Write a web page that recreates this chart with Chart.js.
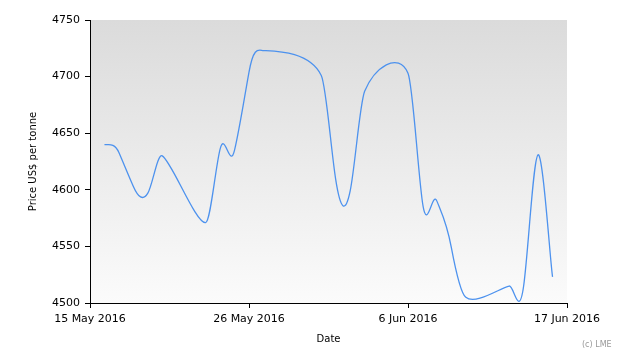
<!DOCTYPE html>
<html>
<head>
<meta charset="utf-8">
<script src="https://cdn.jsdelivr.net/npm/chart.js@4"></script>
<style>
  html, body { margin: 0; padding: 0; background: #fff; }
  #wrap { width: 630px; height: 360px; }
</style>
</head>
<body>
<div id="wrap"><canvas id="priceChart" width="630" height="360"></canvas></div>
<script>
// ---- data (LME, US$ per tonne) ----
const startDate = '2016-05-15';
const tradeDates = [
    '2016-05-16', '2016-05-17', '2016-05-18', '2016-05-19', '2016-05-20',
    '2016-05-23', '2016-05-24', '2016-05-25', '2016-05-26', '2016-05-27',
    '2016-05-31', '2016-06-01', '2016-06-02', '2016-06-03',
    '2016-06-06', '2016-06-07', '2016-06-08', '2016-06-09', '2016-06-10',
    '2016-06-13', '2016-06-14', '2016-06-15', '2016-06-16'
];
const prices = [
    4640, 4633, 4603, 4597, 4630,
    4571, 4636, 4635, 4704, 4723,
    4701, 4609, 4599, 4687,
    4703, 4589, 4590, 4549, 4505,
    4515, 4515, 4631, 4523
];
const xTickLabels = ['15 May 2016', '26 May 2016', '6 Jun 2016', '17 Jun 2016'];
const yTicks = [4500, 4550, 4600, 4650, 4700, 4750];

// days since start, for the linear x axis
const DAY = 86400000;
const dayOf = d => (Date.parse(d) - Date.parse(startDate)) / DAY;
const points = tradeDates.map((d, i) => ({ x: dayOf(d), y: prices[i] }));

// smooth spline: slope from the neighbours (x1.6, like a 0.8 cardinal),
// softened next to gaps, arms kept within each segment so it never loops
const SLOPE_GAIN = 1.6;
const smoothSpline = {
    id: 'smoothSpline',
    beforeDatasetDraw(chart, args) {
        const meta = args.meta;
        meta.dataset.updateControlPoints(chart.chartArea, 'x');
        const pts = meta.data;
        const n = pts.length;
        for (let i = 0; i < n; i++) {
            const p0 = pts[Math.max(i - 1, 0)];
            const p1 = pts[i];
            const p2 = pts[Math.min(i + 1, n - 1)];
            const span = p2.x - p0.x;
            const hl = p1.x - p0.x;
            const hr = p2.x - p1.x;
            let gain = SLOPE_GAIN;
            if (i === 0 || i === n - 1) gain /= 2;
            else gain *= Math.pow(Math.min(hl, hr) / Math.max(hl, hr), 0.25);
            const m = span ? gain * (p2.y - p0.y) / span : 0;
            const lx = i > 0 ? Math.min(hl / 3, span / 6) : 0;
            const rx = i < n - 1 ? Math.min(hr / 3, span / 6) : 0;
            p1.cp1x = p1.x - lx; p1.cp1y = p1.y - m * lx;
            p1.cp2x = p1.x + rx; p1.cp2y = p1.y + m * rx;
        }
    }
};

// gradient behind the plot area + copyright note
const backdrop = {
    id: 'backdrop',
    beforeDraw(chart) {
        const { ctx, chartArea: a } = chart;
        const g = ctx.createLinearGradient(0, a.top, 0, a.bottom);
        g.addColorStop(0, '#dbdbdb');
        g.addColorStop(1, '#fbfbfb');
        ctx.save();
        ctx.fillStyle = g;
        ctx.fillRect(a.left, a.top, a.right - a.left, a.bottom - a.top);
        ctx.restore();
    },
    afterDraw(chart) {
        const ctx = chart.ctx;
        ctx.save();
        ctx.font = '8px "DejaVu Sans"';
        ctx.fillStyle = '#9a9a9a';
        ctx.textAlign = 'left';
        ctx.textBaseline = 'middle';
        ctx.fillText('(c) LME', 582, 345);
        ctx.restore();
    }
};

const tickFont = { family: '"DejaVu Sans", Verdana, sans-serif', size: 11 };
const titleFont = { family: '"DejaVu Sans", Verdana, sans-serif', size: 10 };

new Chart(document.getElementById('priceChart'), {
    type: 'line',
    data: {
        datasets: [{
            data: points,
            borderColor: '#4d92ee',
            borderWidth: 1.3,
            pointRadius: 0,
            fill: false,
            tension: 0.4
        }]
    },
    options: {
        responsive: false,
        animation: false,
        layout: { padding: { top: 20, right: 63, left: 0, bottom: 0 } },
        plugins: { legend: { display: false }, tooltip: { enabled: false } },
        scales: {
            x: {
                type: 'linear',
                min: 0,
                max: 33,
                afterFit: s => { s.height = 57; },
                afterBuildTicks: s => { s.ticks = xTickLabels.map((_, i) => ({ value: i * 11 })); },
                ticks: {
                    autoSkip: false,
                    maxRotation: 0,
                    padding: 5,
                    color: '#000',
                    font: tickFont,
                    callback: (v, i) => xTickLabels[i]
                },
                grid: { drawOnChartArea: false, drawTicks: true, tickLength: 5, color: '#000' },
                border: { color: '#000', width: 1 },
                title: { display: true, text: 'Date', color: '#000', font: titleFont, padding: { bottom: 15 } }
            },
            y: {
                min: 4500,
                max: 4750,
                afterFit: s => { s.width = 90; },
                afterBuildTicks: s => { s.ticks = yTicks.map(v => ({ value: v })); },
                ticks: { padding: 5, color: '#000', font: tickFont, callback: v => String(v) },
                grid: { drawOnChartArea: false, drawTicks: true, tickLength: 5, color: '#000' },
                border: { color: '#000', width: 1 },
                title: { display: true, text: 'Price US$ per tonne', color: '#000', font: titleFont, padding: { top: 27 } }
            }
        }
    },
    plugins: [smoothSpline, backdrop]
});
</script>
</body>
</html>
